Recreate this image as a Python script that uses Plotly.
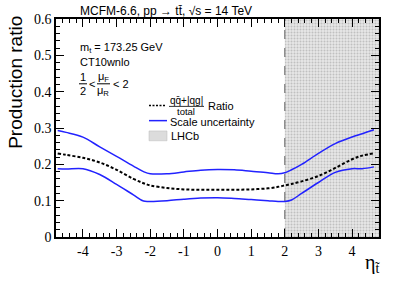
import plotly.graph_objects as go

# ---- data ----
eta = [-4.75, -4.5, -4.0, -3.5, -3.0, -2.5, -2.2, -2.0, -1.5, -1.0, -0.5, 0.0,
       0.5, 1.0, 1.5, 1.8, 2.0, 2.2, 2.5, 3.0, 3.5, 4.0, 4.3, 4.65]
scale_up = [0.293, 0.288, 0.275, 0.248, 0.222, 0.195, 0.180, 0.174, 0.174, 0.179, 0.184, 0.186,
            0.185, 0.181, 0.177, 0.174, 0.177, 0.185, 0.200, 0.230, 0.257, 0.275, 0.284, 0.295]
scale_down = [0.188, 0.187, 0.188, 0.172, 0.145, 0.116, 0.099, 0.098, 0.100, 0.104, 0.107, 0.108,
              0.106, 0.103, 0.100, 0.098, 0.098, 0.102, 0.120, 0.150, 0.178, 0.188, 0.188, 0.193]
ratio = [0.230, 0.226, 0.218, 0.205, 0.185, 0.160, 0.148, 0.142, 0.135, 0.131, 0.130, 0.130,
         0.130, 0.131, 0.134, 0.138, 0.142, 0.146, 0.153, 0.168, 0.190, 0.214, 0.224, 0.230]
lhcb_eta = [2.0, 4.8]
x_ticks = [-4, -3, -2, -1, 0, 1, 2, 3, 4]
x_ticklabels = ["-4", "-3", "-2", "-1", "0", "1", "2", "3", "4"]
y_ticks = [0, 0.1, 0.2, 0.3, 0.4, 0.5, 0.6]
y_ticklabels = ["0", "0.1", "0.2", "0.3", "0.4", "0.5", "0.6"]

W, H = 399, 283
L, R, T, B = 56, 20, 15, 46
PW, PH = W - L - R, H - T - B


def px(x):
    return (x - L) / PW


def py(y):
    return (H - B - y) / PH


SANS = "Liberation Sans, Arial, sans-serif"
SERIF = "Liberation Serif, Times New Roman, serif"
BLUE = "#2222ff"

fig = go.Figure()

# LHCb acceptance region
fig.add_trace(go.Scatter(
    x=[lhcb_eta[0], lhcb_eta[1], lhcb_eta[1], lhcb_eta[0]],
    y=[0, 0, 0.6, 0.6], fill="toself", mode="none",
    fillcolor="#e4e4e4",
    fillpattern=dict(shape=".", size=3, solidity=0.35, fgcolor="#9a9a9a", bgcolor="#e6e6e6"),
    hoverinfo="skip", showlegend=False))
fig.add_trace(go.Scatter(x=[lhcb_eta[0], lhcb_eta[0]], y=[0, 0.6], mode="lines",
                         line=dict(color="#777777", width=1.2, dash="dash"),
                         hoverinfo="skip", showlegend=False))

fig.add_trace(go.Scatter(x=eta, y=scale_up, mode="lines", line=dict(color=BLUE, width=1.5, shape="spline"),
                         showlegend=False))
fig.add_trace(go.Scatter(x=eta, y=scale_down, mode="lines", line=dict(color=BLUE, width=1.5, shape="spline"),
                         showlegend=False))
fig.add_trace(go.Scatter(x=eta, y=ratio, mode="lines",
                         line=dict(color="black", width=2, dash="3px,2px", shape="spline"),
                         showlegend=False))

ann = []
shapes = []


def text(t, x, y, size=11, font=SANS, xanchor="left", yanchor="middle", angle=0):
    ann.append(dict(text=t, x=px(x), y=py(y), xref="paper", yref="paper", showarrow=False,
                    xanchor=xanchor, yanchor=yanchor, textangle=angle, borderpad=0,
                    font=dict(family=font, size=size, color="black")))


def hline(x0, x1, y, color="black", width=1, dash=None):
    shapes.append(dict(type="line", xref="paper", yref="paper", x0=px(x0), x1=px(x1), y0=py(y), y1=py(y),
                       line=dict(color=color, width=width, dash=dash)))


text("MCFM-6.6, pp \u2192 t\u0074\u0304, \u221As = 14 TeV", 166, 7, size=12, xanchor="center")
text("Production ratio", 16, 80, size=19, xanchor="center", angle=-90)
text("\u03b7<sub>t\u0303</sub>", 372, 264, size=20, font=SERIF, xanchor="center")

text("m<sub>t</sub> = 173.25 GeV", 79, 45, size=11)
text("CT10wnlo", 79, 59, size=11)
# 1/2 < muF/muR < 2
text("1", 83, 74, size=11, xanchor="center")
text("2", 83, 88, size=11, xanchor="center")
hline(79, 87, 81)
text("<", 88, 81, size=11)
text("\u03bc<sub>F</sub>", 103, 74, size=11, xanchor="center")
text("\u03bc<sub>R</sub>", 103, 88, size=11, xanchor="center")
hline(97, 110, 81)
text("< 2", 112, 81, size=11)

# legend
hline(149, 166, 103, width=1.5, dash="2px,1.5px")
text("qq\u0304+|qg|", 186, 97.5, size=10, xanchor="center")
hline(169, 204, 104, width=0.8)
text("total", 186, 109.5, size=9.5, xanchor="center")
text("Ratio", 207, 104, size=11)
hline(149, 167, 118.5, color=BLUE, width=1.5)
text("Scale uncertainty", 169, 120, size=11)
shapes.append(dict(type="rect", xref="paper", yref="paper", x0=px(149), x1=px(167), y0=py(139), y1=py(129),
                   fillcolor="#dcdcdc", line=dict(color="#bbbbbb", width=0.5)))
text("LHCb", 170, 134, size=11)

axis_common = dict(showgrid=False, zeroline=False, showline=True, linecolor="black", linewidth=1.5,
                   mirror="allticks", ticks="inside", ticklen=8, tickwidth=1, tickcolor="black",
                   tickfont=dict(family=SERIF, size=14, color="black"))
xminor = dict(tickvals=[v / 5 for v in range(-24, 25)], ticks="inside", ticklen=4, tickcolor="black",
              tickwidth=1, showgrid=False)
yminor = dict(tickvals=[v / 50 for v in range(0, 31)], ticks="inside", ticklen=4, tickcolor="black",
              tickwidth=1, showgrid=False)

fig.update_layout(
    xaxis=dict(range=[-4.8, 4.8], tickmode="array", tickvals=x_ticks, ticktext=x_ticklabels,
               minor=xminor, **axis_common),
    yaxis=dict(range=[0, 0.6], tickmode="array", tickvals=y_ticks, ticktext=y_ticklabels,
               minor=yminor, **axis_common),
)

fig.update_layout(width=W, height=H, margin=dict(l=L, r=R, t=T, b=B),
                  paper_bgcolor="white", plot_bgcolor="white",
                  annotations=ann, shapes=shapes, showlegend=False)

fig.write_html("out.html", config={"displayModeBar": False},
               post_script="document.body.style.margin='0';")
